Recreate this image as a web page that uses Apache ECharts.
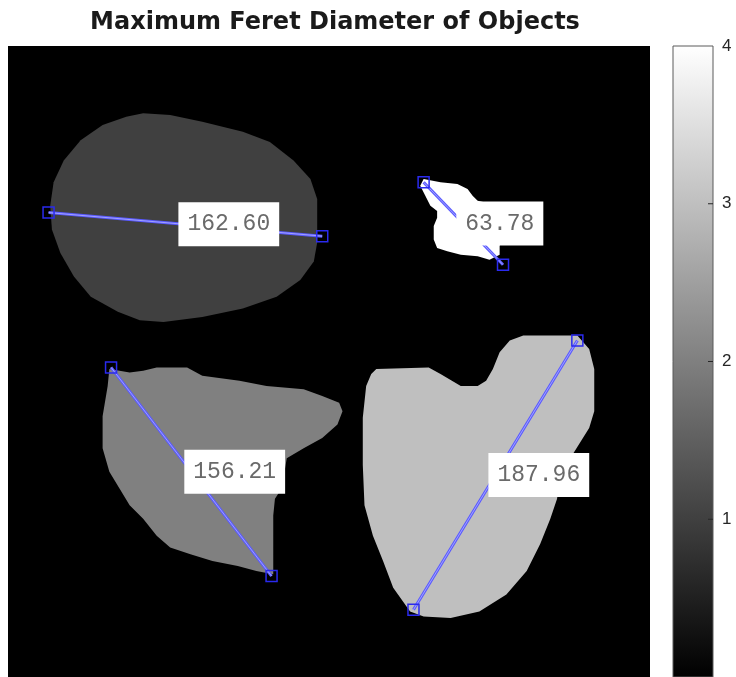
<!DOCTYPE html>
<html>
<head>
<meta charset="utf-8">
<script src="https://cdn.jsdelivr.net/npm/echarts@6/dist/echarts.min.js"></script>
<style>
html, body { margin: 0; padding: 0; background: #fff; }
#main { width: 736px; height: 677px; }
</style>
</head>
<body>
<div id="main"></div>
<script>
// label value of each object (drawn with a gray colormap, 0..4)
var objectLabels = [1, 2, 3, 4];

// object outlines in image pixel coordinates [col, row]
var outline1 = [[80,40],[96,41],[115,45],[139,51],[155,57],[169,68],[179,79],[183,91],[183,103],[183,117],[181,128],[173,139],[159,149],[139,156],[115,161],[92,164],[78,163],[65,158],[49,149],[39,137],[31,123],[26,109],[25,95],[27,81],[33,68],[43,56],[56,47],[70,42]];
var outline2 = [[60,192],[72,194],[80,193],[88,191],[106,191],[115,196],[137,199],[153,202],[175,204],[186,208],[196,212],[198,217],[195,225],[186,233],[175,239],[165,245],[162,263],[158,269],[157,279],[157,314],[147,312],[136,309],[121,306],[108,302],[96,298],[88,291],[80,281],[72,273],[66,263],[60,253],[56,239],[56,220],[59,202]];
var outline3 = [[218,192],[249,191],[256,195],[268,202],[278,202],[283,199],[287,192],[291,182],[297,175],[305,172],[337,172],[344,180],[347,192],[347,217],[344,227],[339,235],[334,243],[327,254],[325,269],[321,281],[315,296],[307,312],[295,326],[279,336],[262,340],[246,339],[238,336],[228,322],[222,306],[216,291],[211,273],[210,249],[210,221],[212,202],[215,195]];
var outline4 = [[246,79],[256,81],[266,82],[272,85],[275,89],[278,92],[291,95],[294,104],[292,114],[291,119],[291,124],[285,127],[278,125],[268,124],[260,122],[254,120],[252,115],[252,107],[254,102],[254,98],[250,95],[247,89],[244,83]];
var outlines = [outline1, outline2, outline3, outline4];

// maximum Feret diameter end points [x1, y1, x2, y2] and the measured values
var feretEnds = [[24,99,186,113],[61,191,156,315],[240,335,337,175],[246,81,293,130]];
var feretText = ['162.60', '156.21', '187.96', '63.78'];

// colorbar
var cbRange = [0, 4];
var cbTicks = [0, 1, 2, 3, 4];

var imgW = 380, imgH = 375;

function grayOf(v) {
    var g = Math.round(v / cbRange[1] * 255);
    return 'rgb(' + g + ',' + g + ',' + g + ')';
}

var myChart = echarts.init(document.getElementById('main'));

function renderObject(params, api) {
    var idx = api.value(0);
    var pts = outlines[idx].map(function (p) { return api.coord(p); });
    return {
        type: 'polygon',
        shape: { points: pts },
        style: { fill: grayOf(objectLabels[idx]), stroke: null }
    };
}

function renderFeret(params, api) {
    var a = api.coord([api.value(0), api.value(1)]);
    var b = api.coord([api.value(2), api.value(3)]);
    var m = [(a[0] + b[0]) / 2, (a[1] + b[1]) / 2];
    var s = 11;
    var seg = { x1: a[0], y1: a[1], x2: b[0], y2: b[1] };
    function box(p) {
        return {
            type: 'rect',
            shape: { x: p[0] - s / 2, y: p[1] - s / 2, width: s, height: s },
            style: { fill: null, stroke: '#2a2aee', lineWidth: 1.5 }
        };
    }
    return {
        type: 'group',
        children: [
            { type: 'line', shape: seg, style: { stroke: '#5a5aff', lineWidth: 3 } },
            { type: 'line', shape: seg, style: { stroke: '#b4b4ff', lineWidth: 0.8 } },
            box(a),
            box(b),
            {
                type: 'text',
                style: {
                    text: feretText[params.dataIndex],
                    x: m[0] - 7,
                    y: m[1],
                    align: 'left',
                    verticalAlign: 'middle',
                    font: '23px "Liberation Mono", monospace',
                    fill: '#6a6a6a',
                    backgroundColor: '#fff',
                    padding: [11, 9, 10, 9]
                }
            }
        ]
    };
}

function renderColorbar(params, api) {
    var top = api.coord([0, api.value(1)]);
    var bot = api.coord([1, api.value(0)]);
    var children = [{
        type: 'rect',
        shape: { x: top[0], y: top[1], width: bot[0] - top[0], height: bot[1] - top[1] },
        style: {
            fill: new echarts.graphic.LinearGradient(0, 0, 0, 1, [
                { offset: 0, color: grayOf(cbRange[1]) },
                { offset: 1, color: grayOf(cbRange[0]) }
            ]),
            stroke: '#5a5a5a',
            lineWidth: 1
        }
    }];
    // tick marks on the right edge, pointing inwards
    cbTicks.forEach(function (t) {
        if (t <= cbRange[0] || t >= cbRange[1]) return;
        var p = api.coord([1, t]);
        children.push({
            type: 'line',
            shape: { x1: p[0] - 5, y1: p[1], x2: p[0], y2: p[1] },
            style: { stroke: '#262626', lineWidth: 1 }
        });
    });
    return { type: 'group', children: children };
}

option = {
    animation: false,
    backgroundColor: '#fff',
    title: {
        text: 'Maximum Feret Diameter of Objects',
        left: 330,
        textAlign: 'center',
        top: 6,
        textStyle: {
            fontFamily: '"DejaVu Sans", sans-serif',
            fontWeight: 'bold',
            fontSize: 24,
            color: '#1a1a1a'
        }
    },
    grid: [
        { left: 8, top: 46, width: 642, height: 634, show: true, backgroundColor: '#000', borderWidth: 0 },
        { left: 673, top: 46, width: 40, height: 634, show: false }
    ],
    xAxis: [
        { gridIndex: 0, type: 'value', min: 0, max: imgW, show: false },
        { gridIndex: 1, type: 'value', min: 0, max: 1, show: false }
    ],
    yAxis: [
        { gridIndex: 0, type: 'value', min: 0, max: imgH, inverse: true, show: false },
        {
            gridIndex: 1,
            type: 'value',
            min: cbRange[0],
            max: cbRange[1],
            interval: 1,
            position: 'right',
            axisLine: { show: false },
            axisTick: { show: false },
            splitLine: { show: false },
            axisLabel: {
                margin: 9,
                fontSize: 17,
                color: '#262626',
                fontFamily: '"Liberation Sans", Arial, sans-serif',
                formatter: function (v) { return cbTicks.indexOf(v) > 0 ? String(v) : ''; }
            }
        }
    ],
    series: [
        {
            type: 'custom',
            xAxisIndex: 0,
            yAxisIndex: 0,
            renderItem: renderObject,
            data: objectLabels.map(function (l, i) { return [i]; }),
            silent: true
        },
        {
            type: 'custom',
            xAxisIndex: 0,
            yAxisIndex: 0,
            renderItem: renderFeret,
            data: feretEnds,
            silent: true
        },
        {
            type: 'custom',
            xAxisIndex: 1,
            yAxisIndex: 1,
            renderItem: renderColorbar,
            data: [cbRange],
            silent: true
        }
    ]
};

myChart.setOption(option);
</script>
</body>
</html>
